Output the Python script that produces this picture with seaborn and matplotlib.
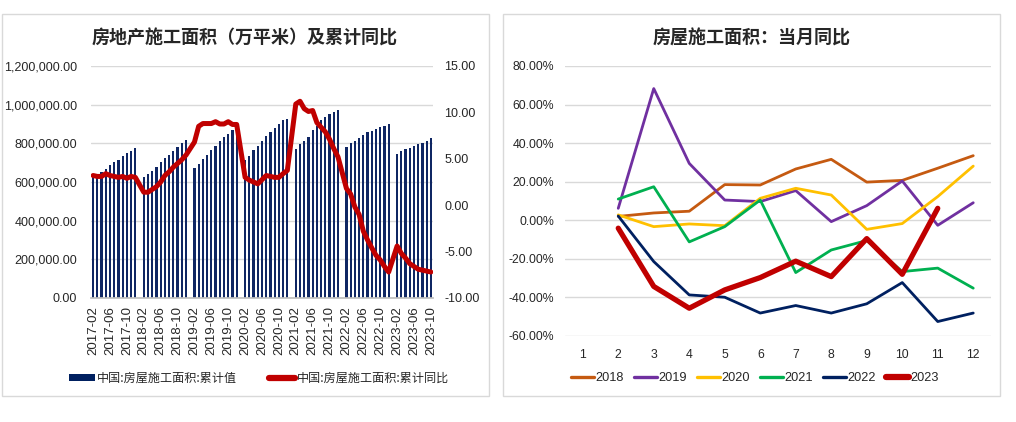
import numpy as np
import pandas as pd
import seaborn as sns
import matplotlib.pyplot as plt
from matplotlib.patches import Rectangle, Patch
from matplotlib.lines import Line2D
from matplotlib.ticker import FuncFormatter

# ---- left panel data: 房屋施工面积 累计值 (万平米), Feb..Dec (2023: Feb..Oct)
area_2017 = [633000, 642000, 651000, 668000, 687000, 702000, 714000, 733000, 748000, 762000, 776000]
area_2018 = [628000, 642000, 659000, 680000, 702000, 724000, 741000, 762000, 779000, 800000, 817000]
area_2019 = [672000, 694000, 720000, 742000, 766000, 788000, 811000, 831000, 848000, 869000, 879000]
area_2020 = [715000, 737000, 763000, 788000, 814000, 836000, 857000, 879000, 900000, 920000, 926000]
area_2021 = [771000, 797000, 810000, 834000, 869000, 891000, 920000, 937000, 951000, 960000, 972000]
area_2022 = [779000, 802000, 814000, 828000, 845000, 857000, 865000, 874000, 882000, 891000, 900000]
area_2023 = [745000, 762000, 769000, 776000, 786000, 797000, 803000, 814000, 828000]

# 累计同比 (%)
yoy_2017 = [3.2, 3.1, 3.1, 3.4, 3.2, 3.1, 3.0, 3.1, 2.9, 3.1, 3.0]
yoy_2018 = [1.4, 1.4, 1.7, 2.0, 2.5, 3.2, 3.6, 4.1, 4.5, 4.9, 5.4]
yoy_2019 = [6.8, 8.5, 8.8, 8.8, 8.8, 9.0, 8.75, 8.75, 9.0, 8.7, 8.7]
yoy_2020 = [3.0, 2.7, 2.5, 2.3, 2.75, 3.2, 3.1, 3.0, 3.0, 3.4, 3.75]
yoy_2021 = [10.9, 11.2, 10.4, 10.1, 10.2, 8.9, 8.4, 7.9, 7.1, 6.1, 5.2]
yoy_2022 = [1.8, 1.2, -0.2, -1.0, -2.8, -3.75, -4.6, -5.4, -5.9, -6.6, -7.2]
yoy_2023 = [-4.4, -5.2, -5.7, -6.3, -6.6, -6.9, -7.0, -7.1, -7.2]

area_by_year = {2017: area_2017, 2018: area_2018, 2019: area_2019, 2020: area_2020,
                2021: area_2021, 2022: area_2022, 2023: area_2023}
yoy_by_year = {2017: yoy_2017, 2018: yoy_2018, 2019: yoy_2019, 2020: yoy_2020,
               2021: yoy_2021, 2022: yoy_2022, 2023: yoy_2023}

# ---- right panel data: 当月同比 (%), months 2..12
months = [2, 3, 4, 5, 6, 7, 8, 9, 10, 11, 12]
m_2018 = [2.0, 3.8, 4.7, 18.5, 18.3, 26.6, 31.6, 19.8, 20.7, 27.0, 33.5]
m_2019 = [6.2, 68.3, 29.5, 10.5, 9.7, 15.4, -0.7, 7.6, 20.4, -2.6, 9.1]
m_2020 = [2.8, -3.3, -1.9, -2.8, 11.4, 16.6, 13.1, -4.7, -1.7, 12.3, 28.1]
m_2021 = [11.0, 17.4, -11.2, -3.3, 10.5, -27.1, -15.4, -10.5, -26.6, -24.8, -35.2]
m_2022 = [2.2, -21.4, -38.7, -39.9, -48.1, -44.2, -48.1, -43.3, -32.3, -52.5, -48.1]
m_2023 = [-4.1, -34.3, -45.6, -36.1, -29.7, -21.2, -29.2, -9.5, -28.0, 6.2]

monthly = {"2018": m_2018, "2019": m_2019, "2020": m_2020,
           "2021": m_2021, "2022": m_2022, "2023": m_2023}
line_colors = {"2018": "#C55A11", "2019": "#7030A0", "2020": "#FFC000",
               "2021": "#00B050", "2022": "#002060", "2023": "#C00000"}

NAVY = "#0F2663"
RED = "#C00000"
GRID = "#D9D9D9"
TXT = "#262626"

# build the category table (January is an empty slot)
rows = []
for year, vals in area_by_year.items():
    n = len(vals) + 1
    for m in range(1, n + 1):
        if year == 2017 and m == 1:
            continue
        a = np.nan if m == 1 else vals[m - 2]
        y = np.nan if m == 1 else yoy_by_year[year][m - 2]
        rows.append({"label": f"{year}-{m:02d}", "area": a, "yoy": y})
left_df = pd.DataFrame(rows)
left_df["pos"] = np.arange(len(left_df))
labels = left_df["label"].tolist()

right_df = pd.concat(
    [pd.DataFrame({"year": k, "month": months[:len(v)], "yoy": v}) for k, v in monthly.items()],
    ignore_index=True)

sns.set_theme(style="white")
plt.rcParams["font.family"] = ["Liberation Sans", "Noto Sans CJK SC"]
plt.rcParams["xtick.color"] = TXT
plt.rcParams["ytick.color"] = TXT
cjk = ["Noto Sans CJK SC", "DejaVu Sans"]

fig = plt.figure(figsize=(10.16, 4.22), dpi=100)

# panel frames
for x0, x1 in [(2, 489), (503, 1000)]:
    fig.add_artist(Rectangle((x0 / 1016, 1 - 396 / 422), (x1 - x0) / 1016, (396 - 14) / 422,
                             transform=fig.transFigure, fill=False, edgecolor=GRID, lw=1))

# ---------------- left chart
ax = fig.add_axes([91 / 1016, 1 - 298 / 422, 342 / 1016, 232 / 422])
sns.barplot(data=left_df, x="label", y="area", order=labels, color=NAVY, saturation=1,
            width=0.55, errorbar=None, linewidth=0, ax=ax)
ax.set_xlim(-0.5, len(labels) - 0.5)
ax.set_ylim(0, 1200000)
ax.set_yticks(np.arange(0, 1200001, 200000))
ax.yaxis.set_major_formatter(FuncFormatter(lambda v, p: f"{v:,.2f}"))
ax.grid(axis="y", color=GRID, lw=1)
ax.set_axisbelow(True)
ax.set_xticks(range(0, len(labels), 4))
ax.set_xticklabels(labels[::4], rotation=90, fontsize=9.5)
ax.tick_params(axis="x", length=4, color="#BFBFBF", pad=2)
ax.tick_params(axis="y", length=0, labelsize=9, pad=10)
for s in ["top", "right", "left"]:
    ax.spines[s].set_visible(False)
ax.spines["bottom"].set_color("#BFBFBF")
ax.set_xlabel("")
ax.set_ylabel("")

ax2 = ax.twinx()
sns.lineplot(data=left_df, x="pos", y="yoy", color=RED, lw=3.6, ax=ax2)
ax2.set_ylim(-10, 15)
ax2.set_yticks(np.arange(-10, 15.1, 5))
ax2.yaxis.set_major_formatter(FuncFormatter(lambda v, p: f"{v:.2f}"))
ax2.tick_params(axis="y", length=0, labelsize=9, pad=8)
for s in ax2.spines.values():
    s.set_visible(False)
ax2.set_ylabel("")
ax2.set_xlabel("")

fig.text(245 / 1016, 1 - 38 / 422, "房地产施工面积（万平米）及累计同比", ha="center", va="center",
         fontsize=13, fontweight="bold", family=cjk, color=TXT)

left_handles = [Patch(facecolor="#002060", edgecolor="none"),
                Line2D([], [], color=RED, lw=4.5)]
fig.legend(left_handles, ["中国:房屋施工面积:累计值", "中国:房屋施工面积:累计同比"],
           loc="center", bbox_to_anchor=(259 / 1016, 1 - 378 / 422), ncol=2, frameon=False,
           prop={"family": cjk, "size": 8.7}, handlelength=2.2, handleheight=0.5,
           handletextpad=0.15, columnspacing=2.6, labelcolor=TXT)

# ---------------- right chart
bx = fig.add_axes([565 / 1016, 1 - 336 / 422, 426 / 1016, 270 / 422])
for yr, sub in right_df.groupby("year"):
    sns.lineplot(data=sub, x="month", y="yoy", color=line_colors[yr],
                 lw=3.8 if yr == "2023" else 2.0, ax=bx, zorder=3 if yr == "2023" else 2)
bx.set_xlim(0.5, 12.5)
bx.set_ylim(-60, 80)
bx.set_xticks(range(1, 13))
bx.set_yticks(np.arange(-60, 81, 20))
bx.yaxis.set_major_formatter(FuncFormatter(lambda v, p: f"{v:.2f}%"))
bx.grid(axis="y", color=GRID, lw=1)
bx.set_axisbelow(True)
bx.tick_params(axis="both", length=0, labelsize=8.8)
bx.tick_params(axis="y", pad=8)
bx.tick_params(axis="x", pad=9)
for s in bx.spines.values():
    s.set_visible(False)
bx.set_xlabel("")
bx.set_ylabel("")

fig.text(752 / 1016, 1 - 38 / 422, "房屋施工面积：当月同比", ha="center", va="center",
         fontsize=13, fontweight="bold", family=cjk, color=TXT)

right_handles = [Line2D([], [], color=line_colors[k], lw=4.5 if k == "2023" else 2.4) for k in monthly]
fig.legend(right_handles, list(monthly.keys()), loc="center",
           bbox_to_anchor=(755 / 1016, 1 - 378 / 422), ncol=6, frameon=False,
           prop={"size": 9.2}, handlelength=1.8, handletextpad=0.1, columnspacing=0.8,
           labelcolor=TXT)

fig.savefig("out.png", dpi=100, facecolor="white")
